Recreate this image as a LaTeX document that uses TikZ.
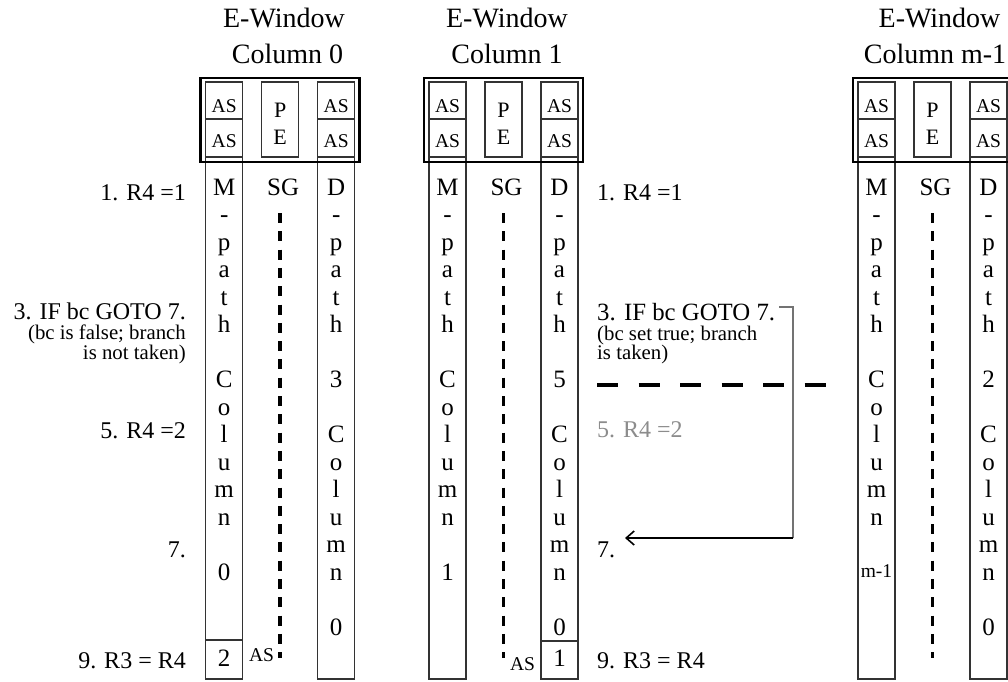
\documentclass[tikz,border=0pt]{standalone}
\usepackage{fontspec}
\setmainfont{Liberation Serif}
\usetikzlibrary{arrows.meta}
\newcommand\ewframe[1]{%
  \draw[thinline] (#1+5,82) rectangle (#1+42,679);
  \draw[thinline] (#1+5,119) -- (#1+42,119);
  \draw[thinline] (#1+5,157) -- (#1+42,157);
  \draw[thinline] (#1+117,82) rectangle (#1+154,679);
  \draw[thinline] (#1+117,119) -- (#1+154,119);
  \draw[thinline] (#1+117,157) -- (#1+154,157);
  \draw[thinline] (#1+61,82) rectangle (#1+98,157);
  \draw[outerbox] (#1,78) rectangle (#1+159,162);
  \draw[sgdash] (#1+79.5,213) -- (#1+79.5,658);
}
\newcommand\ewtext[2]{% #1 = L, #2 = prefix
  \node[asfont] (#2-as1) at (#1+23.5,112) {AS};
  \node[asfont] (#2-as2) at (#1+23.5,147) {AS};
  \node[asfont] (#2-as3) at (#1+135.5,112) {AS};
  \node[asfont] (#2-as4) at (#1+135.5,147) {AS};
  \node[pefont] (#2-p) at (#1+79.5,117) {P};
  \node[pefont] (#2-e) at (#1+79.5,144) {E};
  \node[colletter] (#2-sg) at (#1+82.5,195) {SG};
}
\newcommand\colletters[3]{%
  \foreach \t [count=\i] in {#2} {\node[colletter] (#3-\i) at (#1,167.5+27.5*\i) {\t};}}
\begin{document}
\begin{tikzpicture}[x=1pt,y=-1pt,
  thinline/.style={draw=black!80, line width=1.1pt},
  outerbox/.style={draw=black, line width=2.6pt},
  colletter/.style={anchor=base, inner sep=0pt, font=\fontsize{25}{25}\selectfont},
  titlefont/.style={anchor=base, inner sep=0pt, font=\fontsize{28}{28}\selectfont},
  lbl/.style={inner sep=0pt, font=\fontsize{24}{24}\selectfont},
  smalllbl/.style={inner sep=0pt, font=\fontsize{20.8}{20.8}\selectfont},
  asfont/.style={anchor=base, inner sep=0pt, font=\fontsize{19.5}{19.5}\selectfont},
  pefont/.style={anchor=base, inner sep=0pt, font=\fontsize{22}{22}\selectfont},
  sgdash/.style={draw=black, line width=3.5pt, dash pattern=on 10pt off 8.3pt},
  bigdash/.style={draw=black, line width=4.5pt, dash pattern=on 21pt off 20.5pt},
  grayline/.style={draw=black!55, line width=1.3pt},
  arrowline/.style={draw=black, line width=1.3pt, -{Straight Barb[length=8pt,width=14pt,line width=1.6pt]}},
]
\useasboundingbox (0,0) rectangle (1008,681);

% ---------- frames ----------
\ewframe{200.7}
\ewframe{424}
\ewframe{853}

% ---------- titles ----------
\node[titlefont] (t0a) at (284,27) {E-Window};
\node[titlefont] (t0b) at (287.5,63) {Column 0};
\node[titlefont] (t1a) at (507,27) {E-Window};
\node[titlefont] (t1b) at (507,63) {Column 1};
\node[titlefont] (t2a) at (939.5,27) {E-Window};
\node[titlefont] (t2b) at (935,63) {Column m-1};

% ---------- box texts ----------
\ewtext{200.7}{c0}
\ewtext{424}{c1}
\ewtext{853}{c2}

% ---------- column letters ----------
\colletters{224.2}{M,-,p,a,t,h,{},C,o,l,u,m,n,{},0}{c0m}
\colletters{336.2}{D,-,p,a,t,h,{},3,{},C,o,l,u,m,n,{},0}{c0d}
\colletters{447.5}{M,-,p,a,t,h,{},C,o,l,u,m,n,{},1}{c1m}
\colletters{559.5}{D,-,p,a,t,h,{},5,{},C,o,l,u,m,n,{},0}{c1d}
\colletters{876.5}{M,-,p,a,t,h,{},C,o,l,u,m,n}{c2m}
\colletters{988.5}{D,-,p,a,t,h,{},2,{},C,o,l,u,m,n,{},0}{c2d}
\node[asfont] (c2m-last) at (876.5,577) {m-1};

% ---------- bottom boxes ----------
\draw[thinline] (205.7,640) -- (242.7,640);
\node[colletter] (c0m-bot) at (224.2,666) {2};
\node[asfont] (c0-asb) at (261.5,661) {AS};
\draw[thinline] (541,641) -- (578,641);
\node[colletter] (c1d-bot) at (559.5,666) {1};
\node[asfont] (c1-asb) at (522.5,670) {AS};

% ---------- left labels ----------
\node[lbl, anchor=base east] (l1) at (186,200) {1. R4 =1};
\node[lbl, anchor=base east] (l3) at (186,319) {3. IF bc GOTO 7.};
\node[smalllbl, anchor=base east] (l3a) at (186,339) {(bc is false; branch};
\node[smalllbl, anchor=base east] (l3b) at (186,359) {is not taken)};
\node[lbl, anchor=base east] (l5) at (186,438) {5. R4 =2};
\node[lbl, anchor=base east] (l7) at (186,557) {7.};
\node[lbl, anchor=base east] (l9) at (186,668) {9. R3 = R4};

% ---------- right labels ----------
\node[lbl, anchor=base west] (r1) at (597,200) {1. R4 =1};
\node[lbl, anchor=base west, font=\fontsize{24.8}{24.8}\selectfont] (r3) at (597,320) {3. IF bc GOTO 7.};
\node[smalllbl, anchor=base west] (r3a) at (597,340) {(bc set true; branch};
\node[smalllbl, anchor=base west] (r3b) at (597,359) {is taken)};
\node[lbl, anchor=base west, text=black!45] (r5) at (597,437) {5. R4 =2};
\node[lbl, anchor=base west] (r7) at (597,557) {7.};
\node[lbl, anchor=base west] (r9) at (597,668) {9. R3 = R4};

% ---------- squash line ----------
\coordinate (dashA) at (597,385);
\coordinate (dashB) at (826,385);
\draw[bigdash] (dashA) -- (dashB);

% ---------- branch connector ----------
\coordinate (brA) at (779,307);
\coordinate (brB) at (793,307);
\coordinate (brC) at (793,538);
\coordinate (tip) at (625,538);
\draw[grayline] (brA) -- (brB) -- (brC);
\draw[arrowline] (brC) -- (tip);
\end{tikzpicture}
\end{document}
